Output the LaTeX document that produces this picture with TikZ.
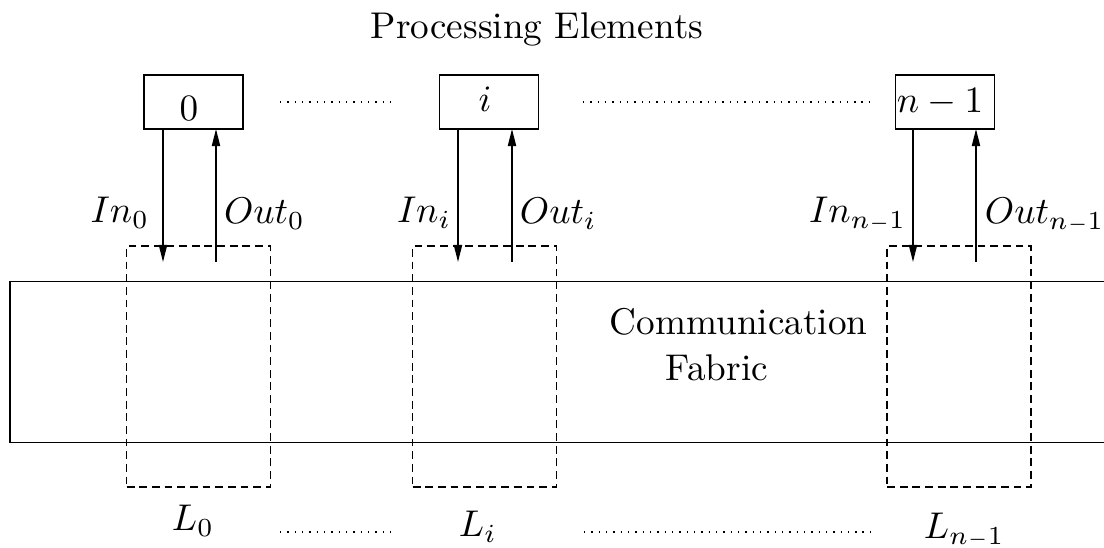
\documentclass[tikz,border=0pt]{standalone}
\usetikzlibrary{arrows.meta}
% compact subscript "n-1"
\newcommand{\nmo}{n{\scriptscriptstyle-}1}
\begin{document}
\begin{tikzpicture}[x=0.2688pt,y=-0.2688pt,
  every node/.style={inner sep=0pt,outer sep=0pt},
  pebox/.style={draw,line width=0.4pt,minimum width=26.5pt,minimum height=14.5pt},
  linkbox/.style={draw,line width=0.4pt,dash pattern=on 2.1pt off 1.3pt,minimum width=38.6pt,minimum height=64.8pt},
  sig/.style={line width=0.4pt,-{Triangle[length=4.6pt,width=2.2pt]}},
  elide/.style={line width=0.45pt,dash pattern=on 0.4pt off 1.57pt},
  txt/.style={font=\fontsize{10}{12}\selectfont}]
\useasboundingbox (0,0) rectangle (1104,548);

% title
\node[txt,anchor=base] (title) at (537,39) {Processing Elements};

% processing elements
\node[pebox] (pe0) at (193.5,102) {};
\node[pebox] (pei) at (489,102) {};
\node[pebox] (pen) at (945,102) {};
\node[txt,anchor=base] (pe0t) at (189,121) {$0$};
\node[txt,anchor=base] (peit) at (485,112) {$i$};
\node[txt,anchor=base] (pent) at (940,113) {$n-1$};

% elision dots between processing elements
\draw[elide] (280,102) -- (390,102);
\draw[elide] (583,102) -- (873,102);

% communication fabric (open towards the right)
\coordinate (fabTL) at (10,281.5);
\coordinate (fabBL) at (10,442.5);
\draw[line width=0.4pt] (1104,281.5) -- (fabTL) -- (fabBL) -- (1104,442.5);
\node[txt,anchor=base west] (comm) at (610,335) {Communication};
\node[txt,anchor=base west] (fab) at (666,381) {Fabric};

% links
\node[linkbox] (l0) at (198.5,366.5) {};
\node[linkbox] (li) at (484.5,366.5) {};
\node[linkbox] (ln) at (959,366.5) {};

% in / out signals
\coordinate (in0) at (163,262);
\coordinate (out0) at (216,262);
\coordinate (ini) at (458,262);
\coordinate (outi) at (512,262);
\coordinate (inn) at (913,262);
\coordinate (outn) at (976,262);
\draw[sig] (pe0.south -| in0) -- (in0);
\draw[sig] (out0) -- (pe0.south -| out0);
\draw[sig] (pei.south -| ini) -- (ini);
\draw[sig] (outi) -- (pei.south -| outi);
\draw[sig] (pen.south -| inn) -- (inn);
\draw[sig] (outn) -- (pen.south -| outn);

\node[txt,anchor=base east] (in0t) at (149,223) {$In_0$};
\node[txt,anchor=base west] (out0t) at (224,224) {$Out_0$};
\node[txt,anchor=base east] (init) at (451,223) {$In_i$};
\node[txt,anchor=base west] (outit) at (520,224) {$Out_i$};
\node[txt,anchor=base east] (innt) at (906,223) {$In_{\nmo}$};
\node[txt,anchor=base west] (outnt) at (985,224) {$Out_{\nmo}$};

% link labels
\node[txt,anchor=base west] (l0t) at (172,531) {$L_0$};
\node[txt,anchor=base west] (lit) at (459,537) {$L_i$};
\node[txt,anchor=base west] (lnt) at (924,539) {$L_{\nmo}$};
\draw[elide] (280,532) -- (390,532);
\draw[elide] (584,532) -- (873,532);
\end{tikzpicture}
\end{document}
